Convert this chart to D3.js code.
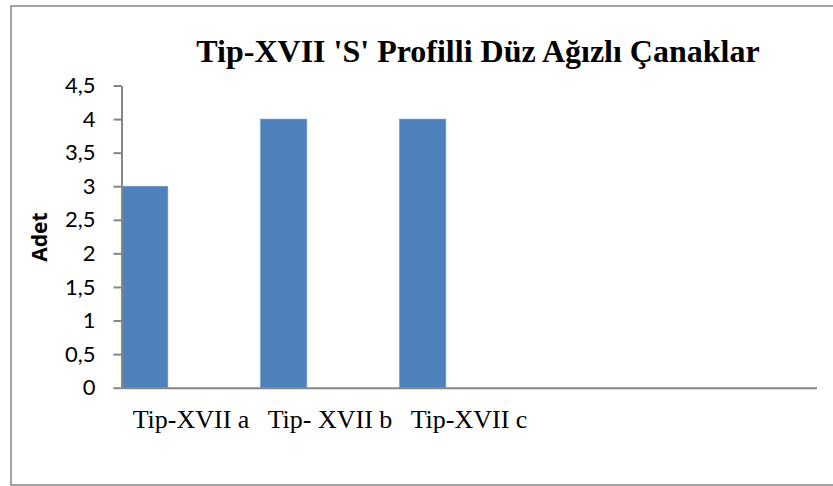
<!DOCTYPE html>
<html>
<head>
<meta charset="utf-8">
<script src="https://cdn.jsdelivr.net/npm/d3@7"></script>
<style>
  html, body { margin: 0; padding: 0; background: #fff; }
  svg { display: block; }
</style>
</head>
<body>
<svg id="chart" width="833" height="486"></svg>
<script>
// Category slots along the x axis (the last two are empty)
const categories = ["Tip-XVII a", "Tip- XVII b", "Tip-XVII c", "", ""];
// Count per category
const values = [3, 4, 4, null, null];
// Series slots within each category; only the first carries data
const seriesSlots = ["Adet", "s2", "s3"];
// Y axis ticks
const yTicks = [0, 0.5, 1, 1.5, 2, 2.5, 3, 3.5, 4, 4.5];
const titleText = "Tip-XVII 'S' Profilli Düz Ağızlı Çanaklar";
const yTitle = "Adet";

const W = 833, H = 486;
const plot = { left: 121.5, right: 816.5, top: 85.5, bottom: 387.7 };
const svg = d3.select("#chart");

// Outer chart frame
svg.append("rect")
  .attr("x", 11).attr("y", 6)
  .attr("width", W + 10).attr("height", 479)
  .attr("fill", "#fff")
  .attr("stroke", "#8c8c8c")
  .attr("stroke-width", 1.6);

const x = d3.scaleBand()
  .domain(d3.range(categories.length))
  .range([plot.left, plot.right])
  .paddingInner(0).paddingOuter(0);

const xs = d3.scaleBand()
  .domain(seriesSlots)
  .range([0, x.bandwidth()])
  .padding(0);

const y = d3.scaleLinear()
  .domain([0, 4.5])
  .range([plot.bottom, plot.top]);

const fmt = d => String(d).replace(".", ",");

// Bars
svg.append("g")
  .selectAll("rect")
  .data(values.map((v, i) => ({ i, v })).filter(d => d.v != null))
  .join("rect")
  .attr("x", d => x(d.i) + xs(seriesSlots[0]))
  .attr("y", d => y(d.v))
  .attr("width", xs.bandwidth())
  .attr("height", d => y(0) - y(d.v))
  .attr("fill", "#4f81bd")
  .attr("stroke", "#6f97cc")
  .attr("stroke-width", 0.6);

// Y axis
const yAxis = svg.append("g")
  .attr("transform", `translate(${plot.left},0)`)
  .call(d3.axisLeft(y).tickValues(yTicks).tickFormat(fmt).tickSize(8).tickPadding(18).tickSizeOuter(0));
yAxis.select(".domain").attr("stroke", "#868686").attr("stroke-width", 2);
yAxis.selectAll(".tick line").attr("stroke", "#868686").attr("stroke-width", 2);
yAxis.selectAll(".tick text")
  .attr("fill", "#000")
  .style("font-family", "Lato, 'Open Sans', sans-serif")
  .style("font-size", "22px");

// X axis
const xAxis = svg.append("g")
  .attr("transform", `translate(0,${plot.bottom})`)
  .call(d3.axisBottom(x).tickFormat(i => categories[i]).tickSize(0).tickSizeOuter(0).tickPadding(22));
xAxis.select(".domain").attr("stroke", "#868686").attr("stroke-width", 2);
xAxis.selectAll(".tick text")
  .attr("fill", "#000")
  .style("font-family", "'Liberation Serif', 'Times New Roman', serif")
  .style("font-size", "26px");

// Title
svg.append("text")
  .attr("x", 478).attr("y", 62)
  .attr("text-anchor", "middle")
  .style("font-family", "'Liberation Serif', 'Times New Roman', serif")
  .style("font-weight", "bold")
  .style("font-size", "32px")
  .text(titleText);

// Y axis title
svg.append("text")
  .attr("transform", "translate(47,237) rotate(-90)")
  .attr("text-anchor", "middle")
  .style("font-family", "'Open Sans', sans-serif")
  .style("font-weight", "bold")
  .style("font-size", "21px")
  .text(yTitle);
</script>
</body>
</html>
